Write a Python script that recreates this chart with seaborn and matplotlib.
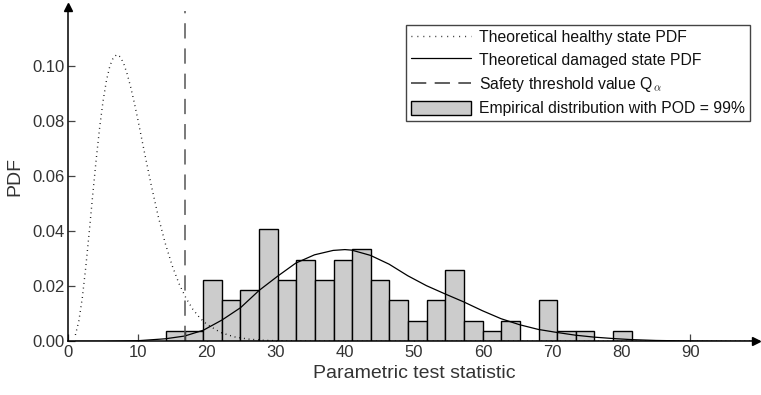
import numpy as np
import pandas as pd
import matplotlib
matplotlib.use("Agg")
import matplotlib.pyplot as plt
import seaborn as sns
from matplotlib.lines import Line2D
from matplotlib.patches import Patch

# ---------------- data ----------------
# empirical histogram: 25 equal-width bins, counts of 100 samples
hist_start = 14.1
hist_bin_width = 2.696
hist_counts = [1, 1, 6, 4, 5, 11, 6, 8, 6, 8, 9, 6, 4, 2, 4, 7, 2, 1, 2, 0, 4, 1, 1, 0, 1]

# theoretical healthy-state PDF
healthy_x = [1, 1.5, 2, 2.5, 3, 3.5, 4, 4.5, 5, 5.5, 6, 6.5, 7, 7.5, 8, 8.5, 9, 9.5,
             10, 11, 12, 13, 14, 15, 16, 17, 18, 19, 20, 22, 24, 26, 28, 30, 35, 40,
             50, 60, 70, 80, 90, 100]
healthy_pdf = [0.0023, 0.0074, 0.0158, 0.0269, 0.0396, 0.0530, 0.0658, 0.0774, 0.0872,
               0.0948, 0.1001, 0.1031, 0.1041, 0.1033, 0.1008, 0.0970, 0.0923, 0.0869,
               0.0810, 0.0685, 0.0564, 0.0452, 0.0356, 0.0275, 0.0209, 0.0157, 0.0116,
               0.0085, 0.0062, 0.0032, 0.0016, 0.0008, 0.0004, 0.0002, 0.00003, 0.0,
               0.0, 0.0, 0.0, 0.0, 0.0, 0.0]

# theoretical damaged-state PDF
damaged_x = [1, 5, 10, 14, 16.8, 19.5, 22.2, 24.9, 27.6, 30.3, 32.9, 35.6, 38.3, 40,
             41.0, 43.7, 46.4, 49.1, 51.8, 54.5, 57.2, 59.9, 62.6, 65.3, 68.0, 70.7,
             73.4, 76.1, 78.8, 81.5, 85, 90, 95, 100]
damaged_pdf = [0.0, 0.0, 0.0002, 0.0009, 0.0019, 0.0040, 0.0077, 0.0122, 0.0185, 0.0237,
               0.0284, 0.0314, 0.0330, 0.0333, 0.0331, 0.0312, 0.0280, 0.0238, 0.0202,
               0.0172, 0.0143, 0.0111, 0.0082, 0.0060, 0.0043, 0.0032, 0.0022, 0.0015,
               0.0010, 0.0006, 0.0003, 0.0001, 0.0, 0.0]

threshold_q = 16.92

x_ticks = [0, 10, 20, 30, 40, 50, 60, 70, 80, 90]
y_ticks = [0.00, 0.02, 0.04, 0.06, 0.08, 0.10]

legend_labels = ["Theoretical healthy state PDF",
                 "Theoretical damaged state PDF",
                 r"Safety threshold value Q$_{\,\alpha}$",
                 "Empirical distribution with POD = 99%"]

# ---------------- styling ----------------
sns.set_style("ticks")
plt.rcParams["font.family"] = ["Liberation Sans", "DejaVu Sans"]
plt.rcParams["mathtext.fontset"] = "cm"

fig = plt.figure(figsize=(7.61, 3.95), dpi=100)
ax = fig.add_axes([0.090, 0.136, 0.908, 0.8365])

edges = [hist_start + hist_bin_width * i for i in range(len(hist_counts) + 1)]
centers = [(edges[i] + edges[i + 1]) / 2 for i in range(len(hist_counts))]
hist_df = pd.DataFrame({"value": centers, "count": hist_counts})

sns.histplot(data=hist_df, x="value", weights="count", bins=edges, stat="density",
             color="#cccccc", edgecolor="black", linewidth=1.0, alpha=1.0, ax=ax)

healthy_df = pd.DataFrame({"x": healthy_x, "pdf": healthy_pdf})
damaged_df = pd.DataFrame({"x": damaged_x, "pdf": damaged_pdf})

sns.lineplot(data=healthy_df, x="x", y="pdf", color="black", linewidth=1.0, ax=ax)
ax.lines[-1].set_dashes((0.6, 2.8))
sns.lineplot(data=damaged_df, x="x", y="pdf", color="black", linewidth=0.9, ax=ax)

ax.axvline(threshold_q, color="#555555", linewidth=1.1, dashes=(10, 6.5))

ax.set_xlim(0, 100)
ax.set_ylim(0, 0.12)
ax.set_xticks(x_ticks)
ax.set_yticks(y_ticks)
ax.set_yticklabels([f"{v:.2f}" for v in y_ticks])
ax.tick_params(direction="in", length=5, width=0.9, color="#444444",
               labelsize=12, labelcolor="#333333", pad=3)
for s in ["top", "right"]:
    ax.spines[s].set_visible(False)
for s in ["left", "bottom"]:
    ax.spines[s].set_linewidth(1.1)
    ax.spines[s].set_color("black")

ax.plot(0.995, 0, ">", color="black", markersize=6, transform=ax.get_yaxis_transform(),
        clip_on=False)
ax.plot(0, 1.012, "^", color="black", markersize=6, transform=ax.get_xaxis_transform(),
        clip_on=False)

ax.set_xlabel("Parametric test statistic", fontsize=14, color="#333333", labelpad=3)
ax.set_ylabel("PDF", fontsize=14, color="#333333", labelpad=6)

handles = [Line2D([], [], color="black", linewidth=1.0, dashes=(0.6, 3.7)),
           Line2D([], [], color="black", linewidth=0.9),
           Line2D([], [], color="#333333", linewidth=1.1, dashes=(10, 5.5)),
           Patch(facecolor="#cccccc", edgecolor="black", linewidth=1.0)]
leg = ax.legend(handles, legend_labels, loc="upper left", bbox_to_anchor=(0.489, 0.957),
                fontsize=11.3, frameon=True, fancybox=False, framealpha=1.0,
                edgecolor="#444444", handlelength=3.8, handleheight=1.0,
                handletextpad=0.55, labelspacing=0.45, borderpad=0.3, borderaxespad=0)
leg.get_frame().set_linewidth(1.0)
for t in leg.get_texts():
    t.set_color("#111111")

fig.savefig("out.png", dpi=100)
